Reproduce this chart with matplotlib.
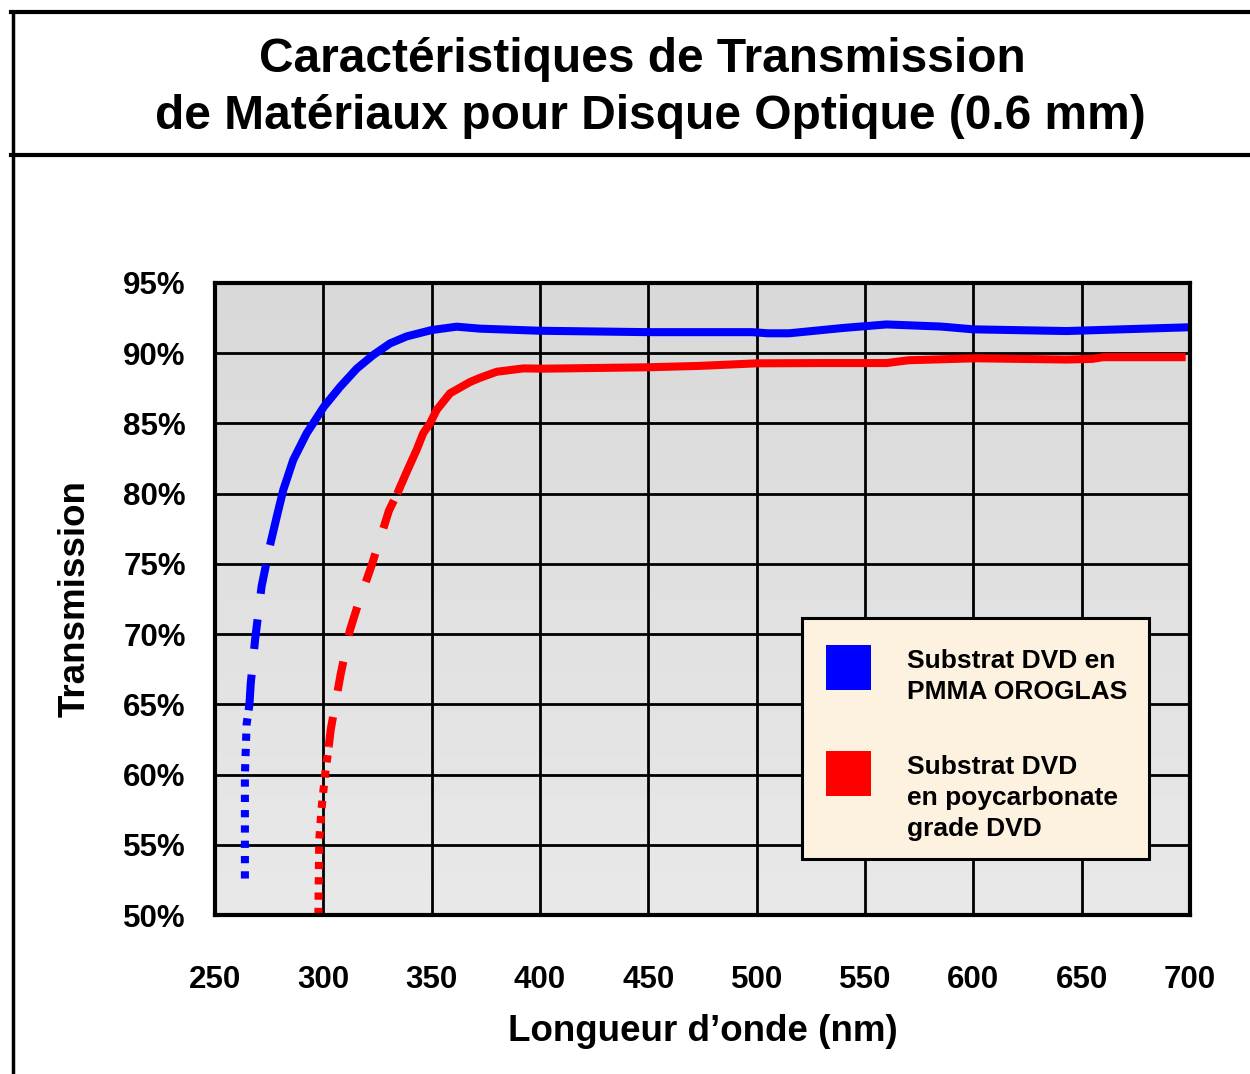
import numpy as np
import matplotlib
matplotlib.use("Agg")
import matplotlib.pyplot as plt
from matplotlib.colors import LinearSegmentedColormap
from matplotlib.patches import Rectangle
from matplotlib.lines import Line2D

plt.rcParams["font.family"] = ["Liberation Sans", "DejaVu Sans"]
plt.rcParams["font.weight"] = "bold"
plt.rcParams["axes.labelweight"] = "bold"

# PMMA (bleu) : partie mesurée, extrapolée (tirets) et incertaine (pointillés)
pmma_x = [275.4, 278.5, 281.5, 286.1, 292.3, 300.3, 307.7, 315.4, 323, 330.8, 338.5, 350, 361.5, 372.3,
          400, 450, 474, 498, 505, 515, 540, 560, 585, 600, 643, 700]
pmma_y = [76.34, 78.36, 80.26, 82.4, 84.3, 86.2, 87.6, 88.9, 89.87, 90.7, 91.2, 91.65, 91.89, 91.75,
          91.6, 91.5, 91.5, 91.5, 91.42, 91.42, 91.8, 92.05, 91.9, 91.7, 91.58, 91.85]
pmma_dash_x = [265.9, 266.5, 268.5, 271.5, 275.4]
pmma_dash_y = [65.0, 66.5, 69.6, 73.4, 76.34]
pmma_dot_x = [263.8, 263.8, 263.8, 264.6, 265.9]
pmma_dot_y = [52.6, 56.5, 60.0, 63.6, 65.0]

# Polycarbonate (rouge)
pc_x = [334.1, 338.5, 343, 346.1, 349.2, 352.3, 358.5, 367.7, 372.3, 380, 392.3, 401.5,
        450, 474, 500, 530, 560, 570, 601, 643, 655, 660, 698]
pc_y = [80.0, 81.56, 83.1, 84.3, 85.0, 85.96, 87.15, 87.95, 88.25, 88.68, 88.92, 88.9,
        89.0, 89.1, 89.28, 89.3, 89.3, 89.5, 89.64, 89.55, 89.6, 89.72, 89.72]
pc_dash_x = [302.5, 303.4, 308, 312.3, 316.2, 322.3, 330.3, 334.1]
pc_dash_y = [62.0, 63.2, 67.15, 70.3, 72.2, 74.9, 78.8, 80.0]
pc_dot_x = [297.7, 298.1, 299.2, 300.8, 302.5]
pc_dot_y = [50.0, 55.3, 57.6, 60.0, 62.0]

x_ticks = [250, 300, 350, 400, 450, 500, 550, 600, 650, 700]
y_ticks = [50, 55, 60, 65, 70, 75, 80, 85, 90, 95]

legend_labels = ["Substrat DVD en\nPMMA OROGLAS", "Substrat DVD\nen poycarbonate\ngrade DVD"]
blue = "#0000ff"
red = "#ff0000"

fig = plt.figure(figsize=(12.5, 10.74), dpi=100)
ax = fig.add_axes([0.172, 0.148, 0.78, 0.5885])

# fond dégradé gris
cmap = LinearSegmentedColormap.from_list("bg", ["#e9e9e9", "#d9d9d9"])
ax.imshow(np.linspace(0, 1, 256).reshape(-1, 1), extent=[0, 1, 0, 1], transform=ax.transAxes,
          cmap=cmap, aspect="auto", origin="lower", zorder=0)

lw = 5.8
ax.plot(pmma_x, pmma_y, color=blue, lw=lw, solid_capstyle="butt", solid_joinstyle="round", zorder=3)
ax.plot(pmma_dash_x, pmma_dash_y, color=blue, lw=lw, dashes=(3.7, 3.2), dash_capstyle="butt", zorder=3)
ax.plot(pmma_dot_x, pmma_dot_y, color=blue, lw=lw, dashes=(0.9, 1.0), dash_capstyle="butt", zorder=3)
ax.plot(pc_x, pc_y, color=red, lw=lw, solid_capstyle="butt", solid_joinstyle="round", zorder=3)
ax.plot(pc_dash_x, pc_dash_y, color=red, lw=lw, dashes=(3.7, 3.3), dash_capstyle="butt", zorder=3)
ax.plot(pc_dot_x, pc_dot_y, color=red, lw=lw, dashes=(0.9, 1.0), dash_capstyle="butt", zorder=3)

ax.set_xlim(250, 700)
ax.set_ylim(50, 95)
ax.set_xticks(x_ticks)
ax.set_yticks(y_ticks)
ax.set_yticklabels([f"{v}%" for v in y_ticks])
ax.grid(True, color="black", lw=2, zorder=1)
ax.set_axisbelow(False)
ax.tick_params(axis="both", length=0, labelsize=22.5)
ax.tick_params(axis="x", pad=36)
ax.tick_params(axis="y", pad=21)
for s in ax.spines.values():
    s.set_linewidth(3)
    s.set_zorder(4)

ax.set_xlabel("Longueur d\u2019onde (nm)", fontsize=26.5, labelpad=14)
ax.set_ylabel("Transmission", fontsize=26.5, labelpad=22)

# légende
ax.add_patch(Rectangle((0.602, 0.0886), 0.356, 0.3814, transform=ax.transAxes,
                       facecolor="#fdf1df", edgecolor="black", lw=2.2, zorder=5))
for i, (lab, col) in enumerate(zip(legend_labels, [blue, red])):
    top = [0.427, 0.259][i]
    ax.add_patch(Rectangle((0.627, top - 0.071), 0.046, 0.071, transform=ax.transAxes,
                           facecolor=col, edgecolor="none", zorder=6))
    ax.text(0.710, [0.377, 0.185][i], lab, transform=ax.transAxes, fontsize=19,
            va="center", ha="left", linespacing=1.38, zorder=6)

# titre et cadre
fig.text(0.514, 0.933, "Caractéristiques de Transmission", ha="center", va="baseline", fontsize=34.5)
fig.text(0.52, 0.880, "de Matériaux pour Disque Optique (0.6 mm)", ha="center", va="baseline", fontsize=34.5)
fig.add_artist(Line2D([0.0105, 0.0105], [0, 0.989], color="black", lw=2.5, transform=fig.transFigure))
fig.add_artist(Line2D([0.009, 1], [0.989, 0.989], color="black", lw=3, transform=fig.transFigure))
fig.add_artist(Line2D([0.009, 1], [0.856, 0.856], color="black", lw=3, transform=fig.transFigure))

fig.savefig("out.png", dpi=100)
